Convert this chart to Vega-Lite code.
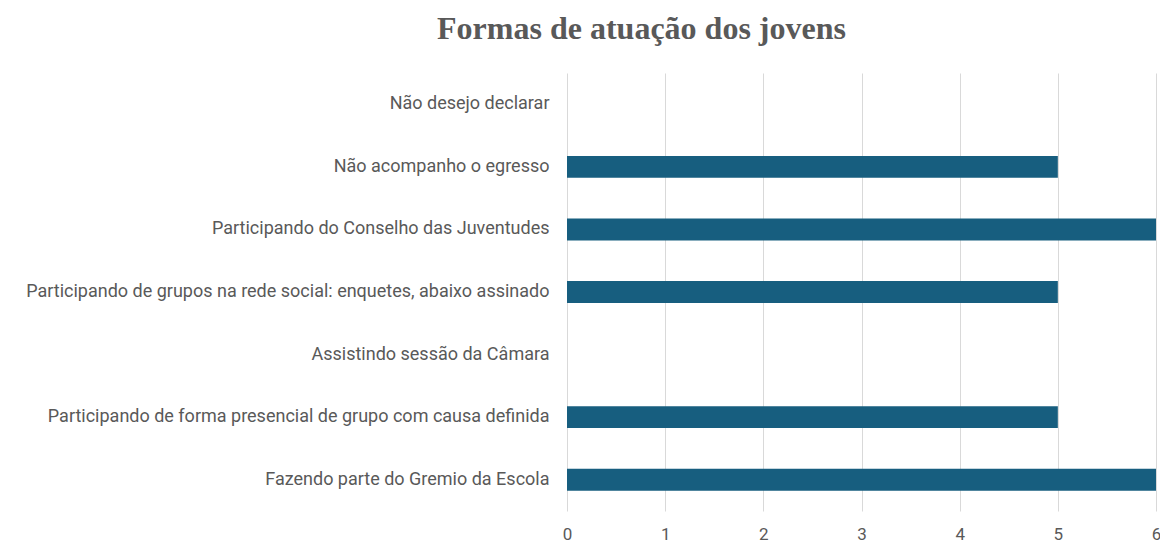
{
  "$schema": "https://vega.github.io/schema/vega-lite/v6.json",
  "autosize": {"type": "none"},
  "width": 589,
  "height": 438,
  "padding": {"left": 567, "top": 73, "right": 4, "bottom": 32},
  "background": "white",
  "title": {
    "text": "Formas de atuação dos jovens",
    "font": "Liberation Serif",
    "fontSize": 32,
    "fontWeight": "bold",
    "color": "#595959",
    "anchor": "middle",
    "dx": -220,
    "offset": 27
  },
  "data": {
    "values": [
      {"categoria": "Não desejo declarar", "valor": 0},
      {"categoria": "Não acompanho o egresso", "valor": 5},
      {"categoria": "Participando do Conselho das Juventudes", "valor": 6},
      {"categoria": "Participando de grupos na rede social: enquetes,  abaixo assinado", "valor": 5},
      {"categoria": "Assistindo sessão da Câmara", "valor": 0},
      {"categoria": "Participando de forma presencial de grupo com causa definida", "valor": 5},
      {"categoria": "Fazendo parte do Gremio da Escola ", "valor": 6}
    ]
  },
  "mark": {"type": "bar", "color": "#175E7F"},
  "encoding": {
    "y": {
      "field": "categoria",
      "type": "nominal",
      "sort": null,
      "scale": {"paddingInner": 0.65, "paddingOuter": 0.325},
      "axis": {
        "title": null,
        "domain": false,
        "ticks": false,
        "grid": false,
        "labelPadding": 18,
        "labelFont": "Roboto",
        "labelFontSize": 18,
        "labelColor": "#595959",
        "labelLimit": 700
      }
    },
    "x": {
      "field": "valor",
      "type": "quantitative",
      "scale": {"domain": [0, 6], "nice": false},
      "axis": {
        "title": null,
        "domain": false,
        "ticks": false,
        "values": [0, 1, 2, 3, 4, 5, 6],
        "grid": true,
        "gridColor": "#D9D9D9",
        "gridWidth": 1,
        "labelPadding": 15,
        "labelFont": "Roboto",
        "labelFontSize": 17,
        "labelColor": "#595959",
        "labelFlush": false
      }
    }
  },
  "config": {"view": {"stroke": null}}
}
